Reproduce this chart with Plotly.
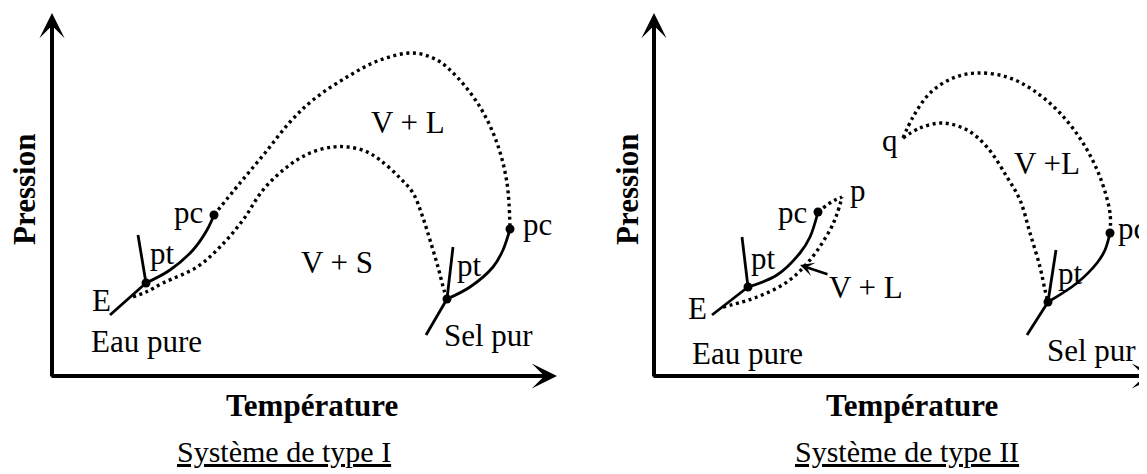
import plotly.graph_objects as go

# ---------------- Système de type I (left panel) ----------------
# T = température, P = pression (arbitrary units)
I_T_MAX, I_P_MAX = 505, 363

I_w_sub_T = [58, 94]
I_w_sub_P = [61, 93]
I_w_fus_T = [86, 94]
I_w_fus_P = [141, 93]
I_w_vap_T = [94, 118, 141, 155, 162]
I_w_vap_P = [93, 106, 126, 146, 161]

I_crit_T = [162, 188, 213, 238, 261, 295, 328, 361, 385, 405, 428, 445, 455, 458]
I_crit_P = [161, 193, 223, 254, 276, 299, 316, 323, 316, 299, 269, 233, 193, 147]

I_3ph_T = [81, 94, 111, 145, 168, 191, 211, 235, 258, 281, 296, 313, 328, 348, 361, 370, 378, 386, 392, 395]
I_3ph_P = [79, 84, 93, 109, 129, 156, 186, 209, 223, 229, 229, 225, 216, 198, 183, 161, 136, 109, 86, 77]

I_s_sub_T = [374, 395]
I_s_sub_P = [41, 77]
I_s_fus_T = [401, 395]
I_s_fus_P = [129, 77]
I_s_vap_T = [395, 418, 441, 451, 458]
I_s_vap_P = [77, 89, 109, 126, 147]

I_pts_T = [94, 162, 395, 458]
I_pts_P = [93, 161, 77, 147]

I_lbl_text = ["E", "pt", "pc", "V + S", "V + L", "pt", "pc", "Eau pure", "Sel pur"]
I_lbl_T = [49, 110, 136, 285, 356, 417, 485, 94, 436]
I_lbl_P = [76, 123, 164, 114, 254, 111, 152, 35, 41]

# ---------------- Système de type II (right panel) ----------------
II_T_MAX, II_P_MAX = 503, 363

II_w_sub_T = [58, 94]
II_w_sub_P = [61, 89]
II_w_fus_T = [88, 94]
II_w_fus_P = [139, 89]
II_w_vap_T = [94, 123, 146, 156, 164]
II_w_vap_P = [89, 101, 123, 139, 164]

II_crit1_T = [164, 173, 181, 188]
II_crit1_P = [164, 171, 176, 179]
II_3ph1_T = [69, 103, 133, 156, 176, 183, 188]
II_3ph1_P = [69, 79, 94, 116, 146, 162, 179]

II_crit2_T = [249, 259, 276, 299, 323, 353, 379, 406, 429, 446, 456, 456]
II_crit2_P = [238, 259, 283, 298, 303, 299, 286, 263, 233, 199, 163, 143]
II_3ph2_T = [249, 266, 289, 313, 333, 353, 366, 376, 386, 391, 394]
II_3ph2_P = [238, 248, 253, 246, 229, 199, 176, 143, 109, 86, 74]

II_s_sub_T = [373, 394]
II_s_sub_P = [41, 74]
II_s_fus_T = [402, 394]
II_s_fus_P = [126, 74]
II_s_vap_T = [394, 423, 443, 451, 456]
II_s_vap_P = [74, 93, 113, 126, 143]

II_pts_T = [94, 164, 394, 456]
II_pts_P = [89, 164, 74, 143]

II_lbl_text = ["E", "pt", "pc", "p", "q", "V +L", "pt", "pc", "Eau pure", "Sel pur"]
II_lbl_T = [43, 109, 138, 204, 236, 393, 416, 478, 93, 437]
II_lbl_P = [68, 118, 164, 186, 236, 213, 103, 148, 23, 26]

II_arrow_head = (146, 111)
II_arrow_text = (212, 89)

TITLE_X = ["Température", "Température"]
TITLE_X_T = [260, 258]
TITLE_Y = ["Pression", "Pression"]
TITLE_Y_T = [-28, -27]
CAPTIONS = ["Système de type I", "Système de type II"]
CAPTIONS_T = [232, 253]

FONT = "Liberation Serif, Times New Roman, serif"

fig = go.Figure()


def line(T, P, xa, ya, dotted=False, spline=True):
    fig.add_trace(go.Scatter(
        x=T, y=P, xaxis=xa, yaxis=ya, mode="lines", hoverinfo="skip",
        line=dict(color="black", width=3.4 if dotted else 2.8,
                  dash="3px,3.6px" if dotted else "solid",
                  shape="spline" if spline else "linear", smoothing=1.0),
        showlegend=False))


def pts(T, P, xa, ya):
    fig.add_trace(go.Scatter(x=T, y=P, xaxis=xa, yaxis=ya, mode="markers",
                             hoverinfo="skip", showlegend=False,
                             marker=dict(color="black", size=9)))


# panel I
line(I_w_sub_T, I_w_sub_P, "x", "y", spline=False)
line(I_w_fus_T, I_w_fus_P, "x", "y", spline=False)
line(I_w_vap_T, I_w_vap_P, "x", "y")
line(I_crit_T, I_crit_P, "x", "y", dotted=True)
line(I_3ph_T, I_3ph_P, "x", "y", dotted=True)
line(I_s_sub_T, I_s_sub_P, "x", "y", spline=False)
line(I_s_fus_T, I_s_fus_P, "x", "y", spline=False)
line(I_s_vap_T, I_s_vap_P, "x", "y")
pts(I_pts_T, I_pts_P, "x", "y")

# panel II
line(II_w_sub_T, II_w_sub_P, "x2", "y2", spline=False)
line(II_w_fus_T, II_w_fus_P, "x2", "y2", spline=False)
line(II_w_vap_T, II_w_vap_P, "x2", "y2")
line(II_crit1_T, II_crit1_P, "x2", "y2", dotted=True)
line(II_3ph1_T, II_3ph1_P, "x2", "y2", dotted=True)
line(II_crit2_T, II_crit2_P, "x2", "y2", dotted=True)
line(II_3ph2_T, II_3ph2_P, "x2", "y2", dotted=True)
line(II_s_sub_T, II_s_sub_P, "x2", "y2", spline=False)
line(II_s_fus_T, II_s_fus_P, "x2", "y2", spline=False)
line(II_s_vap_T, II_s_vap_P, "x2", "y2")
pts(II_pts_T, II_pts_P, "x2", "y2")

ann = []


def label(text, T, P, xa, ya, size=31, **kw):
    ann.append(dict(text=text, x=T, y=P, xref=xa, yref=ya, showarrow=False,
                    xanchor="center", yanchor="middle",
                    font=dict(family=FONT, size=size, color="black"), **kw))


def axis_arrow(xa, ya, head, tail):
    ann.append(dict(text="", x=head[0], y=head[1], ax=tail[0], ay=tail[1],
                    xref=xa, yref=ya, axref=xa, ayref=ya, showarrow=True,
                    arrowhead=3, arrowsize=1.05, arrowwidth=4, arrowcolor="black"))


for i, (xa, ya, tmax, pmax) in enumerate([("x", "y", I_T_MAX, I_P_MAX),
                                          ("x2", "y2", II_T_MAX, II_P_MAX)]):
    axis_arrow(xa, ya, (tmax, 0), (-2, 0))
    axis_arrow(xa, ya, (0, pmax), (0, -2))
    label("<b>" + TITLE_X[i] + "</b>", TITLE_X_T[i], -29, xa, ya)
    label("<b>" + TITLE_Y[i] + "</b>", TITLE_Y_T[i], 186, xa, ya, textangle=-90)
    label("<u>" + CAPTIONS[i] + "</u>", CAPTIONS_T[i], -75, xa, ya, size=30)

for t, T, P in zip(I_lbl_text, I_lbl_T, I_lbl_P):
    label(t, T, P, "x", "y")
for t, T, P in zip(II_lbl_text, II_lbl_T, II_lbl_P):
    label(t, T, P, "x2", "y2")

ann.append(dict(text="V + L", x=II_arrow_head[0], y=II_arrow_head[1],
                ax=II_arrow_text[0], ay=II_arrow_text[1],
                xref="x2", yref="y2", axref="x2", ayref="y2", showarrow=True,
                arrowhead=3, arrowsize=0.9, arrowwidth=2.6, arrowcolor="black",
                font=dict(family=FONT, size=31, color="black")))

# the page body has an 8px margin: ranges are offset so the drawing lands in place
hidden = dict(visible=False, fixedrange=True)
fig.update_layout(
    width=1147, height=474, margin=dict(l=0, r=0, t=0, b=0),
    paper_bgcolor="white", plot_bgcolor="white",
    xaxis=dict(domain=[0, 0.5], range=[-44, 529.5], **hidden),
    xaxis2=dict(domain=[0.5, 1], range=[-72.5, 501], anchor="y2", **hidden),
    yaxis=dict(domain=[0, 1], range=[-106, 368], anchor="x", **hidden),
    yaxis2=dict(domain=[0, 1], range=[-106, 368], anchor="x2", **hidden),
    annotations=ann,
)

fig.write_html("out.html")
